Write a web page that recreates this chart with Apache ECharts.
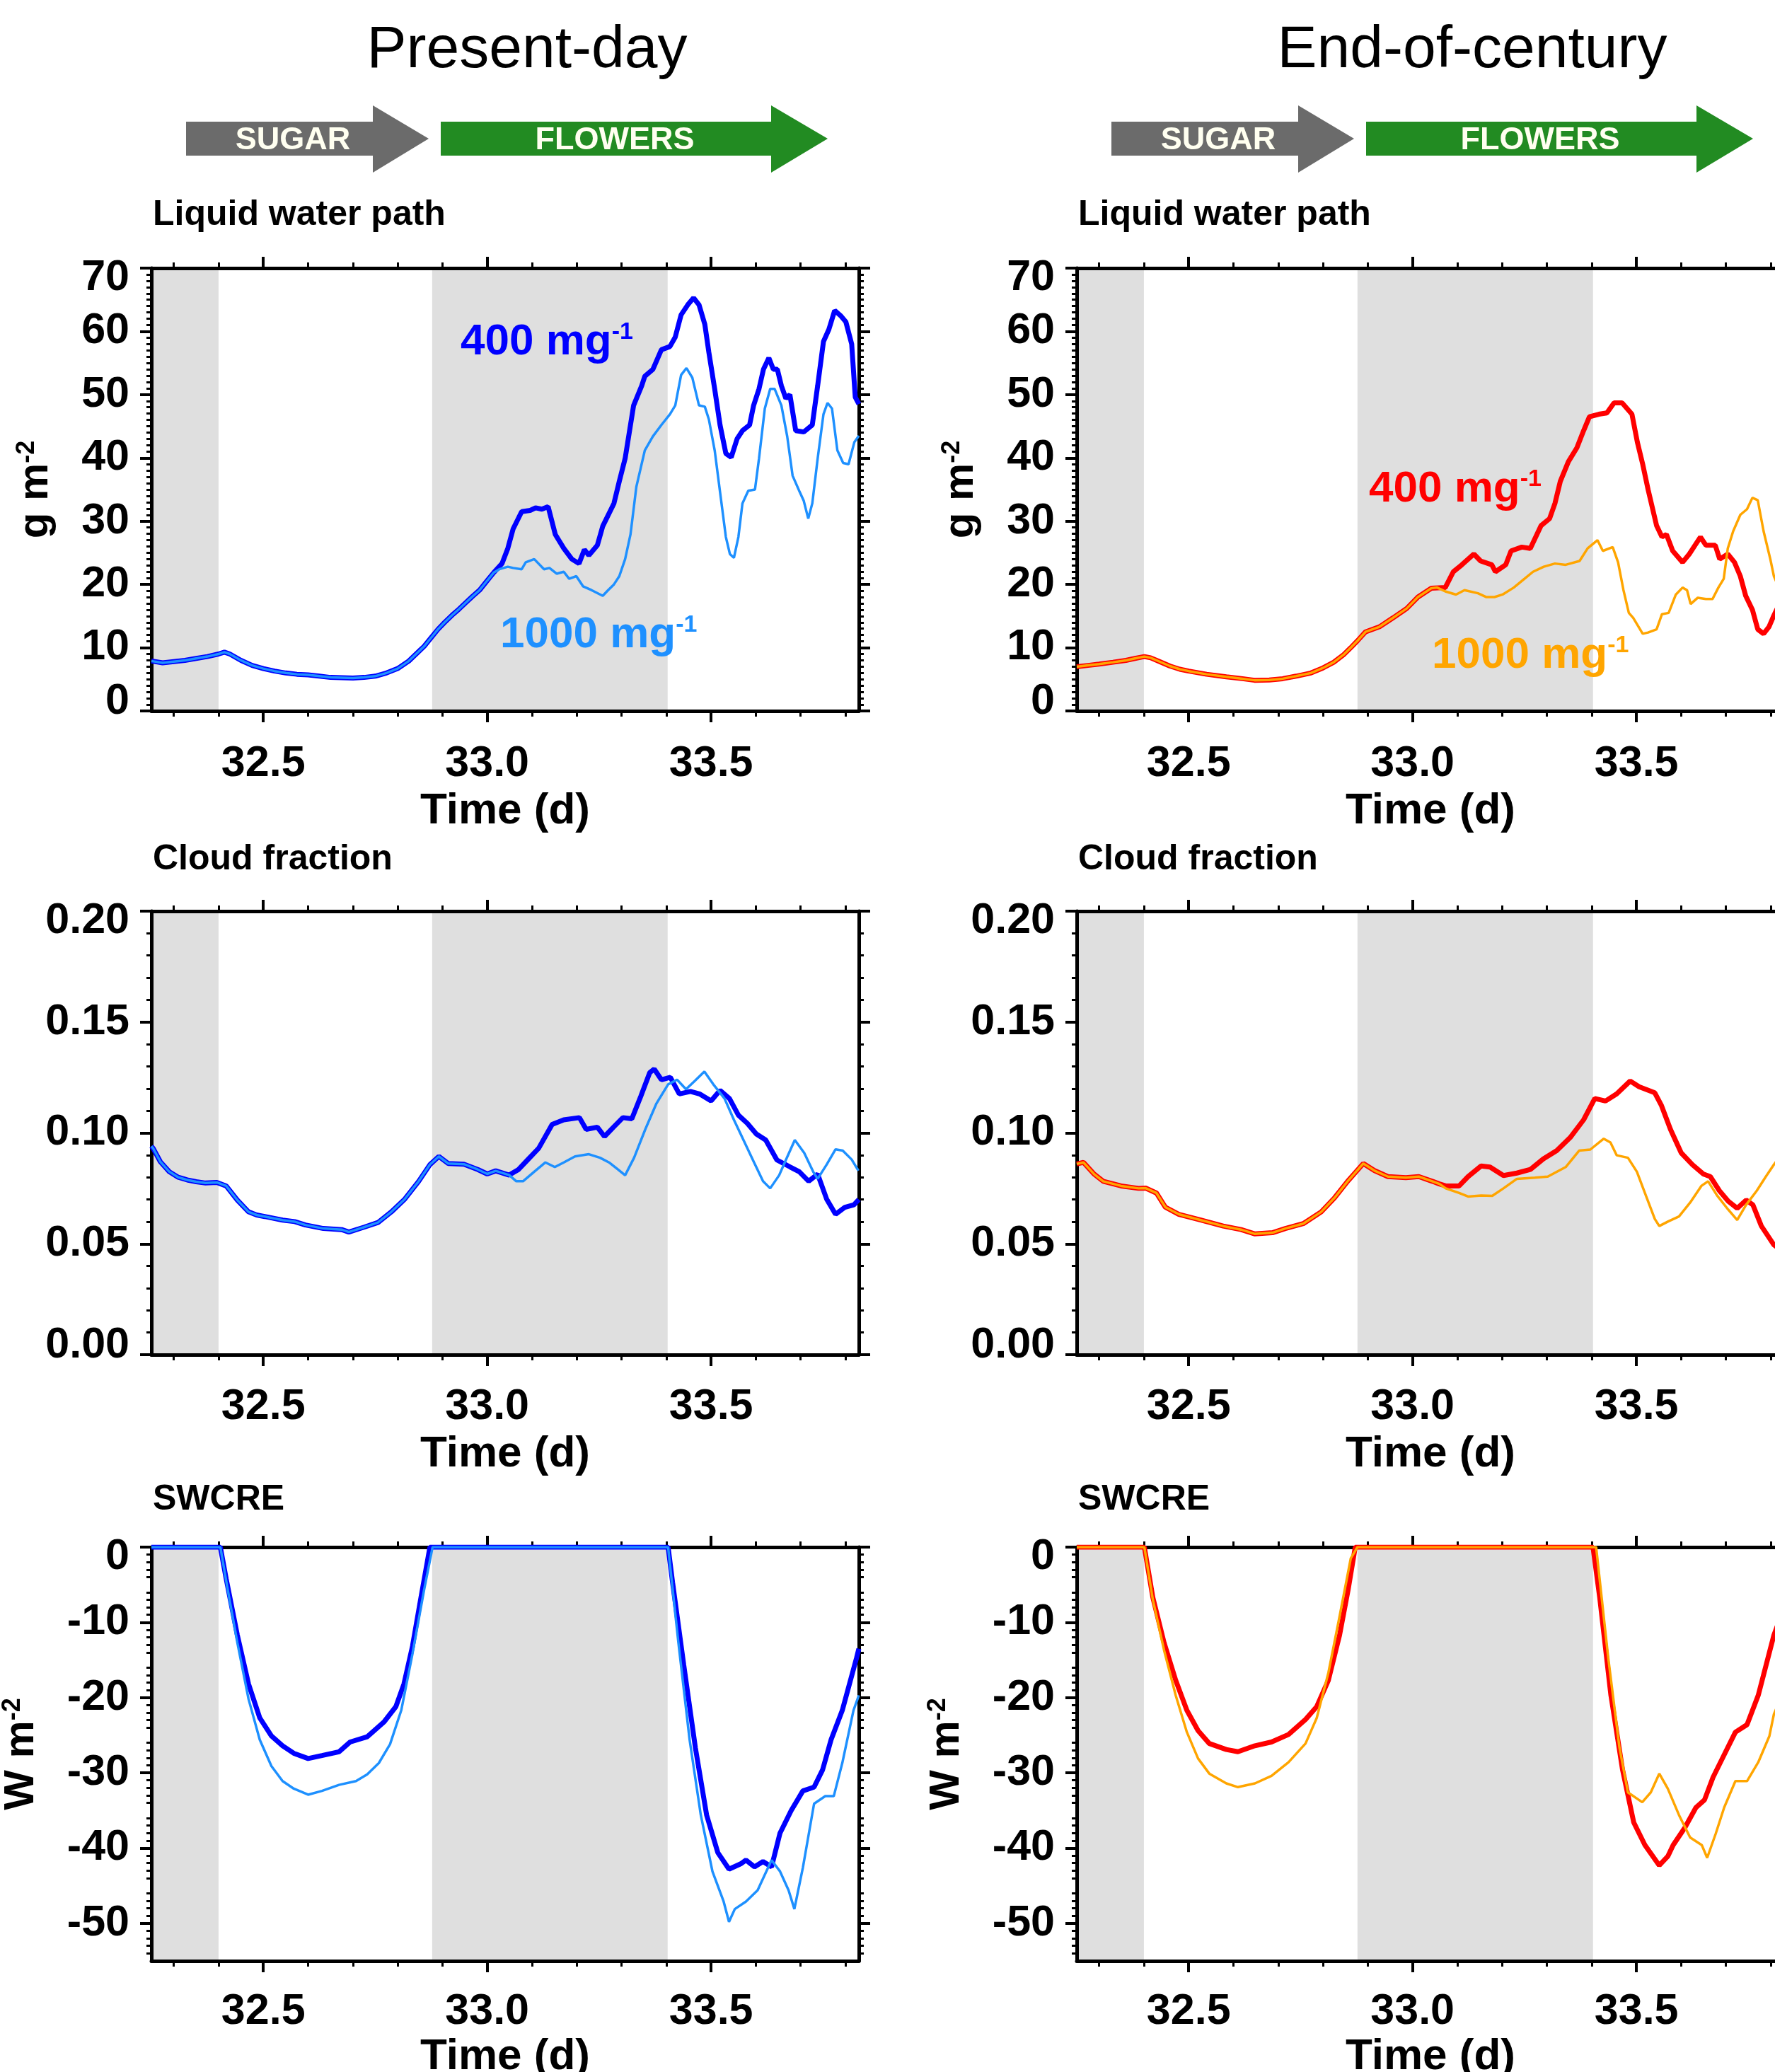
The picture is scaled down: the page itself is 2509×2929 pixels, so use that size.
<!DOCTYPE html>
<html>
<head>
<meta charset="utf-8">
<title>Sugar to Flowers</title>
<script src="https://cdn.jsdelivr.net/npm/echarts@6/dist/echarts.min.js"></script>
<style>
html, body { margin: 0; padding: 0; background: #fff; overflow: hidden; }
/* a bit wider than the window: the right column is cut off at the edge, like the original */
#chart { width: 2540px; height: 2929px; }
</style>
</head>
<body>
<div id="chart"></div>
<script>
// ---- data (time in days) ----
const timeMin = 32.25, timeMax = 33.83;
const timeLabels = [32.5, 33.0, 33.5];
const timeMinorTicks = [32.3, 32.4, 32.6, 32.7, 32.8, 32.9, 33.1, 33.2, 33.3, 33.4, 33.6, 33.7, 33.8];
const nightBands = [[32.25, 32.40], [32.877, 33.403]];
const swcreTicks = [-50, -40, -30, -20, -10, 0];

// liquid water path, present-day (both runs identical up to ~33.02)
const lwpPdShared = [[32.25,7.9],[32.275,7.6],[32.3,7.8],[32.325,8.0],[32.35,8.3],[32.375,8.6],[32.4,9.0],[32.413,9.3],[32.425,9.0],[32.45,8.0],[32.475,7.2],[32.5,6.7],[32.525,6.3],[32.55,6.0],[32.575,5.8],[32.6,5.7],[32.625,5.5],[32.65,5.3],[32.675,5.25],[32.7,5.2],[32.725,5.3],[32.75,5.5],[32.775,6.0],[32.8,6.7],[32.825,7.9],[32.85,9.6],[32.859,10.2],[32.875,11.6],[32.89,12.9],[32.905,14.0],[32.921,15.1],[32.937,16.1],[32.952,17.1],[32.967,18.1],[32.983,19.1],[33.0,20.6],[33.015,21.9]];
const lwpPd400 = [[33.033,23.3],[33.046,25.7],[33.058,28.8],[33.077,31.5],[33.096,31.7],[33.108,32.1],[33.122,31.9],[33.136,32.3],[33.152,27.9],[33.171,25.7],[33.189,24.0],[33.205,23.3],[33.217,25.5],[33.227,24.6],[33.246,26.2],[33.258,29.2],[33.283,32.8],[33.295,36.3],[33.308,39.9],[33.327,48.3],[33.345,51.4],[33.352,52.9],[33.37,54.0],[33.389,57.1],[33.408,57.6],[33.42,59.1],[33.433,62.6],[33.448,64.2],[33.461,65.3],[33.473,64.2],[33.486,61.1],[33.495,56.7],[33.508,50.9],[33.52,45.2],[33.533,40.7],[33.545,40.1],[33.558,43.0],[33.57,44.3],[33.586,45.2],[33.595,48.3],[33.607,50.9],[33.617,54.0],[33.629,55.8],[33.639,54.0],[33.648,54.0],[33.657,51.4],[33.667,49.4],[33.676,50.0],[33.689,44.3],[33.707,44.1],[33.726,45.2],[33.738,51.4],[33.751,58.4],[33.763,60.3],[33.776,63.3],[33.789,62.5],[33.801,61.5],[33.814,58.0],[33.822,49.6],[33.83,48.5]];
const lwpPd1000 = [[33.027,22.4],[33.046,22.8],[33.058,22.6],[33.077,22.4],[33.086,23.5],[33.105,24.0],[33.127,22.4],[33.139,22.6],[33.155,21.7],[33.171,22.0],[33.183,20.9],[33.199,21.3],[33.214,19.7],[33.233,19.1],[33.258,18.2],[33.27,19.1],[33.283,20.0],[33.295,21.3],[33.308,24.0],[33.32,27.9],[33.333,35.4],[33.352,41.2],[33.37,43.4],[33.389,45.2],[33.408,46.9],[33.42,48.3],[33.433,53.1],[33.445,54.2],[33.458,52.7],[33.473,48.3],[33.486,48.1],[33.495,46.1],[33.508,41.2],[33.52,34.6],[33.533,27.5],[33.542,24.8],[33.551,24.2],[33.561,27.5],[33.57,32.8],[33.583,34.8],[33.598,35.0],[33.607,39.9],[33.62,47.8],[33.632,50.9],[33.642,50.9],[33.657,48.3],[33.67,43.4],[33.682,37.2],[33.698,34.6],[33.707,33.2],[33.717,30.4],[33.726,32.8],[33.738,39.9],[33.751,46.9],[33.76,48.7],[33.77,47.8],[33.782,41.2],[33.795,39.2],[33.807,39.0],[33.82,42.5],[33.83,43.5]];

// liquid water path, end-of-century
const lwpEcShared = [[32.25,7.0],[32.275,7.2],[32.3,7.4],[32.331,7.7],[32.36,8.0],[32.38,8.3],[32.401,8.6],[32.415,8.4],[32.435,7.8],[32.458,7.1],[32.48,6.6],[32.5,6.3],[32.54,5.8],[32.584,5.4],[32.62,5.1],[32.647,4.85],[32.68,4.9],[32.71,5.1],[32.74,5.5],[32.773,6.0],[32.8,6.8],[32.824,7.7],[32.846,8.9],[32.862,10.0],[32.877,11.1],[32.895,12.5],[32.926,13.3],[32.956,14.7],[32.987,16.2],[33.012,18.0],[33.042,19.4]];
const lwpEc400 = [[33.073,19.5],[33.091,22.0],[33.11,23.1],[33.137,24.8],[33.152,23.7],[33.177,23.1],[33.185,22.0],[33.208,23.1],[33.22,25.3],[33.244,25.9],[33.263,25.7],[33.287,29.3],[33.306,30.4],[33.318,32.8],[33.33,36.3],[33.348,39.4],[33.367,41.6],[33.382,44.3],[33.395,46.5],[33.416,46.9],[33.434,47.1],[33.45,48.7],[33.468,48.7],[33.49,46.9],[33.502,42.5],[33.514,39.0],[33.526,35.0],[33.545,29.3],[33.557,27.5],[33.567,27.9],[33.581,25.3],[33.603,23.5],[33.618,24.8],[33.631,26.2],[33.643,27.5],[33.655,26.2],[33.676,26.2],[33.686,24.0],[33.704,24.8],[33.719,23.5],[33.732,21.3],[33.744,18.2],[33.759,16.0],[33.771,12.9],[33.784,12.2],[33.796,13.3],[33.807,15.1],[33.83,18.5]];
const lwpEc1000 = [[33.055,19.5],[33.073,18.9],[33.097,18.4],[33.116,19.1],[33.146,18.6],[33.165,18.0],[33.183,18.0],[33.201,18.4],[33.226,19.5],[33.25,20.9],[33.269,22.0],[33.293,22.8],[33.318,23.3],[33.342,23.1],[33.373,23.7],[33.391,25.7],[33.413,27.0],[33.425,25.3],[33.447,25.9],[33.459,23.5],[33.471,19.1],[33.483,15.5],[33.493,14.7],[33.514,12.2],[33.526,12.4],[33.545,12.9],[33.557,15.3],[33.572,15.5],[33.588,18.4],[33.603,19.5],[33.613,19.1],[33.621,16.9],[33.637,17.9],[33.655,17.7],[33.67,17.7],[33.683,19.5],[33.695,20.9],[33.704,25.7],[33.716,28.4],[33.732,31.0],[33.747,31.9],[33.759,33.7],[33.771,33.3],[33.784,28.4],[33.799,24.0],[33.807,21.3],[33.83,17.5]];

// cloud fraction, present-day
const cfPdShared = [[32.25,0.094],[32.254,0.093],[32.27,0.087],[32.29,0.0825],[32.31,0.080],[32.33,0.0788],[32.35,0.078],[32.371,0.0774],[32.396,0.0777],[32.417,0.0761],[32.442,0.0697],[32.467,0.0644],[32.485,0.063],[32.503,0.0623],[32.543,0.0607],[32.57,0.060],[32.594,0.0585],[32.634,0.0569],[32.675,0.0564],[32.691,0.0553],[32.725,0.0575],[32.756,0.0596],[32.786,0.0644],[32.816,0.0702],[32.847,0.0782],[32.872,0.0857],[32.892,0.0894],[32.913,0.0862],[32.948,0.0859],[32.979,0.0835],[33.0,0.0815],[33.019,0.0829],[33.049,0.0810]];
const cfPd400 = [[33.07,0.0835],[33.09,0.0878],[33.115,0.0931],[33.145,0.1038],[33.171,0.1059],[33.206,0.1069],[33.221,0.1016],[33.246,0.1026],[33.262,0.0984],[33.282,0.1026],[33.303,0.1069],[33.323,0.1064],[33.343,0.1165],[33.363,0.1272],[33.373,0.1288],[33.389,0.1240],[33.409,0.1251],[33.429,0.1176],[33.454,0.1187],[33.474,0.1176],[33.5,0.1144],[33.52,0.1192],[33.541,0.1155],[33.561,0.1080],[33.581,0.1043],[33.601,0.0995],[33.622,0.0968],[33.647,0.0878],[33.677,0.0846],[33.697,0.0825],[33.718,0.0782],[33.738,0.0814],[33.758,0.0702],[33.778,0.0633],[33.799,0.0665],[33.819,0.0676],[33.83,0.070]];
const cfPd1000 = [[33.065,0.0782],[33.08,0.0782],[33.105,0.0825],[33.13,0.0867],[33.151,0.0846],[33.171,0.0867],[33.196,0.0894],[33.227,0.0904],[33.252,0.0888],[33.272,0.0867],[33.292,0.0835],[33.308,0.0809],[33.328,0.0888],[33.353,0.1016],[33.378,0.1133],[33.404,0.1219],[33.424,0.1240],[33.444,0.1197],[33.464,0.1235],[33.485,0.1277],[33.505,0.1219],[33.53,0.1155],[33.551,0.1059],[33.571,0.0974],[33.596,0.0867],[33.616,0.0782],[33.632,0.0750],[33.652,0.0809],[33.667,0.0878],[33.687,0.0968],[33.708,0.0910],[33.728,0.0825],[33.738,0.0793],[33.758,0.0857],[33.778,0.0926],[33.794,0.0920],[33.814,0.0880],[33.829,0.0830]];

// cloud fraction, end-of-century
const cfEcShared = [[32.25,0.086],[32.265,0.0867],[32.289,0.0814],[32.309,0.0782],[32.349,0.0761],[32.388,0.0750],[32.404,0.0751],[32.428,0.0729],[32.448,0.0665],[32.478,0.0633],[32.527,0.0607],[32.577,0.0580],[32.617,0.0564],[32.647,0.0545],[32.687,0.0550],[32.716,0.0569],[32.756,0.0591],[32.796,0.0644],[32.826,0.0708],[32.855,0.0782],[32.89,0.0862],[32.915,0.0830],[32.945,0.0803],[32.985,0.0798],[33.014,0.0803],[33.044,0.0782],[33.06,0.0770]];
const cfEc400 = [[33.074,0.0761],[33.104,0.0761],[33.124,0.0803],[33.153,0.0851],[33.173,0.0846],[33.203,0.0808],[33.233,0.0819],[33.263,0.0835],[33.292,0.0883],[33.322,0.0920],[33.352,0.0979],[33.382,0.1059],[33.407,0.1155],[33.431,0.1144],[33.456,0.1176],[33.486,0.1234],[33.506,0.1208],[33.541,0.1181],[33.556,0.1123],[33.576,0.1016],[33.6,0.0910],[33.625,0.0857],[33.65,0.0814],[33.665,0.0803],[33.685,0.0740],[33.705,0.0692],[33.725,0.0660],[33.745,0.0697],[33.76,0.0676],[33.779,0.0580],[33.807,0.0495],[33.83,0.046]];
const cfEc1000 = [[33.074,0.0750],[33.104,0.0729],[33.124,0.0713],[33.153,0.0718],[33.178,0.0716],[33.203,0.0750],[33.233,0.0793],[33.273,0.0798],[33.302,0.0803],[33.342,0.0846],[33.372,0.0920],[33.397,0.0925],[33.427,0.0974],[33.442,0.0957],[33.456,0.0899],[33.481,0.0888],[33.501,0.0825],[33.521,0.0718],[33.541,0.0612],[33.551,0.0580],[33.571,0.0601],[33.595,0.0623],[33.62,0.0686],[33.645,0.0761],[33.66,0.0782],[33.68,0.0718],[33.705,0.0654],[33.725,0.0607],[33.745,0.0676],[33.769,0.0740],[33.789,0.0803],[33.807,0.0857],[33.83,0.092]];

// shortwave cloud radiative effect
const swPd400 = [[32.25,0],[32.404,0],[32.417,-4.2],[32.442,-11.7],[32.467,-18.2],[32.492,-22.7],[32.518,-25.1],[32.543,-26.4],[32.568,-27.4],[32.6,-28.1],[32.631,-27.7],[32.669,-27.2],[32.694,-25.9],[32.732,-25.2],[32.77,-23.2],[32.796,-21.2],[32.814,-18.2],[32.833,-13.2],[32.852,-6.7],[32.872,0],[33.404,0],[33.414,-4.7],[33.439,-15.7],[33.465,-26.7],[33.49,-35.6],[33.515,-40.6],[33.54,-42.8],[33.566,-42.1],[33.578,-41.6],[33.597,-42.5],[33.616,-41.8],[33.635,-42.5],[33.654,-38.0],[33.679,-35.0],[33.705,-32.4],[33.73,-31.9],[33.749,-29.6],[33.768,-25.6],[33.793,-21.7],[33.825,-14.7],[33.83,-13.5]];
const swPd1000 = [[32.25,0],[32.404,0],[32.42,-5.5],[32.442,-12.7],[32.467,-20.2],[32.492,-25.6],[32.518,-29.1],[32.543,-31.1],[32.568,-32.1],[32.6,-32.9],[32.631,-32.4],[32.669,-31.6],[32.707,-31.1],[32.732,-30.2],[32.758,-28.7],[32.783,-26.2],[32.808,-21.7],[32.833,-14.2],[32.859,-5.7],[32.878,0],[33.404,0],[33.427,-12.7],[33.452,-25.6],[33.477,-35.6],[33.503,-43.1],[33.528,-47.1],[33.54,-49.8],[33.553,-48.1],[33.578,-47.1],[33.604,-45.6],[33.635,-41.6],[33.654,-43.1],[33.673,-45.6],[33.686,-48.1],[33.705,-42.6],[33.73,-34.1],[33.755,-33.1],[33.774,-33.1],[33.793,-28.7],[33.818,-21.7],[33.83,-19.7]];
const swEc400 = [[32.25,0],[32.401,0],[32.42,-6.7],[32.445,-12.7],[32.471,-17.7],[32.496,-21.7],[32.521,-24.4],[32.546,-26.1],[32.584,-26.9],[32.61,-27.2],[32.648,-26.4],[32.685,-25.9],[32.723,-24.9],[32.761,-22.9],[32.786,-21.2],[32.812,-17.7],[32.837,-11.7],[32.856,-5.7],[32.872,0],[33.403,0],[33.418,-6.7],[33.443,-19.7],[33.469,-29.6],[33.494,-36.6],[33.519,-39.6],[33.551,-42.3],[33.57,-41.1],[33.582,-39.6],[33.608,-37.3],[33.633,-34.6],[33.652,-33.6],[33.671,-30.6],[33.696,-27.6],[33.721,-24.6],[33.747,-23.6],[33.772,-19.7],[33.807,-11.7],[33.83,-8]];
const swEc1000 = [[32.25,0],[32.401,0],[32.42,-7],[32.445,-13.7],[32.471,-19.7],[32.496,-24.6],[32.521,-28.1],[32.546,-30.1],[32.584,-31.4],[32.61,-31.9],[32.648,-31.4],[32.685,-30.4],[32.723,-28.6],[32.761,-26.1],[32.786,-22.7],[32.812,-16.7],[32.837,-9.2],[32.862,-1.5],[32.877,0],[33.41,0],[33.437,-14.7],[33.462,-26.6],[33.481,-32.6],[33.513,-33.9],[33.532,-32.6],[33.551,-30.1],[33.57,-32.1],[33.595,-35.6],[33.62,-38.6],[33.646,-39.6],[33.658,-41.3],[33.677,-38.1],[33.696,-34.6],[33.721,-31.1],[33.747,-31.1],[33.772,-28.6],[33.797,-25.1],[33.807,-22.2],[33.83,-19]];

// ---- layout ----
const FONT = "'Liberation Sans', Arial, Helvetica, sans-serif";
const colLeft = [214, 1522];
const rowTop = [379, 1288, 2187];
const rowHeight = [626, 627, 585];
const plotWidth = 1000;
const xLabelMargin = [45, 44, 42];
const xNameGap = [111, 110, 105];
const colColors = [['#0000ff', '#1e90ff'], ['#ff0000', '#ffa500']];

const yCfg = [
    { min: 0, max: 70, interval: 10, minor: 10, fmt: v => String(v), name: '{b|g m}{s|-2}', gap: 134, pullMin: true },
    { min: 0, max: 0.2, interval: 0.05, minor: 5, fmt: v => v.toFixed(2), name: '', pullMin: true },
    { min: -55, max: 0, interval: 5, minor: 5, ticks: swcreTicks, fmt: v => String(v), name: '{b|W m}{s|-2}', gap: 154, pullMin: false }
];

// series data per row / column: [400, 1000]
const panelData = [
    [[lwpPdShared.concat(lwpPd400), lwpPdShared.concat(lwpPd1000)],
     [lwpEcShared.concat(lwpEc400), lwpEcShared.concat(lwpEc1000)]],
    [[cfPdShared.concat(cfPd400), cfPdShared.concat(cfPd1000)],
     [cfEcShared.concat(cfEc400), cfEcShared.concat(cfEc1000)]],
    [[swPd400, swPd1000], [swEc400, swEc1000]]
];

const black = { color: '#000', width: 5 };
const labelFont = { fontSize: 61, fontWeight: 'bold', fontFamily: FONT, color: '#000' };
const grid = [], xAxis = [], yAxis = [], series = [];

for (let row = 0; row < 3; row++) {
    for (let col = 0; col < 2; col++) {
        const g = grid.length;
        const yc = yCfg[row];
        // outerBoundsMode none: keep the frame where it is even if names run off the page
        grid.push({ left: colLeft[col], top: rowTop[row], width: plotWidth, height: rowHeight[row],
            outerBoundsMode: 'none', containLabel: false });

        const xBase = { gridIndex: g, type: 'value', min: timeMin, max: timeMax, z: 10,
            splitLine: { show: false }, axisLabel: { show: false } };
        // bottom: labels + long ticks
        xAxis.push(Object.assign({}, xBase, {
            position: 'bottom',
            axisLine: { show: true, onZero: false, lineStyle: black },
            axisTick: { customValues: timeLabels, length: 16, lineStyle: { color: '#000', width: 4 } },
            axisLabel: Object.assign({ show: true, customValues: timeLabels, formatter: v => v.toFixed(1),
                margin: xLabelMargin[row] }, labelFont),
            name: 'Time (d)', nameLocation: 'middle', nameGap: xNameGap[row],
            nameTextStyle: { fontSize: 62, fontWeight: 'bold', fontFamily: FONT, color: '#000' }
        }));
        // bottom: short ticks
        xAxis.push(Object.assign({}, xBase, {
            position: 'bottom', axisLine: { show: false, onZero: false },
            axisTick: { customValues: timeMinorTicks, length: 8, lineStyle: { color: '#000', width: 3 } }
        }));
        // top frame
        xAxis.push(Object.assign({}, xBase, {
            position: 'top', axisLine: { show: true, onZero: false, lineStyle: black },
            axisTick: { customValues: timeLabels, length: 16, lineStyle: { color: '#000', width: 4 } }
        }));
        xAxis.push(Object.assign({}, xBase, {
            position: 'top', axisLine: { show: false, onZero: false },
            axisTick: { customValues: timeMinorTicks, length: 8, lineStyle: { color: '#000', width: 3 } }
        }));

        const yBase = { gridIndex: g, type: 'value', min: yc.min, max: yc.max, interval: yc.interval, z: 10,
            axisLine: { show: true, onZero: false, lineStyle: black },
            axisTick: { length: 16, lineStyle: { color: '#000', width: 4 } },
            minorTick: { show: true, splitNumber: yc.minor, length: 7, lineStyle: { color: '#000', width: 3 } },
            splitLine: { show: false }, minorSplitLine: { show: false } };
        if (yc.ticks) yBase.axisTick.customValues = yc.ticks;

        // end labels sit a little inside the frame, as in the original
        const fmt = yc.fmt, ymin = yc.min, ymax = yc.max, pullMin = yc.pullMin;
        const yLeft = Object.assign({}, yBase, {
            position: 'left',
            axisLabel: Object.assign({
                margin: 31,
                formatter: v => {
                    const s = fmt(v);
                    if (Math.abs(v - ymax) < 1e-9) return '{hi|' + s + '}';
                    if (pullMin && Math.abs(v - ymin) < 1e-9) return '{lo|' + s + '}';
                    return s;
                },
                rich: {
                    hi: Object.assign({ padding: [28, 0, 0, 0] }, labelFont),
                    lo: Object.assign({ padding: [0, 0, 26, 0] }, labelFont)
                }
            }, labelFont)
        });
        if (yc.ticks) yLeft.axisLabel.customValues = yc.ticks;
        if (yc.name) {
            Object.assign(yLeft, {
                name: yc.name, nameLocation: 'middle', nameRotate: 90, nameGap: yc.gap,
                nameTextStyle: { rich: {
                    b: { fontSize: 60, fontWeight: 'bold', fontFamily: FONT, color: '#000' },
                    s: { fontSize: 36, fontWeight: 'bold', fontFamily: FONT, color: '#000', verticalAlign: 'top' }
                } }
            });
        }
        yAxis.push(yLeft);
        yAxis.push(Object.assign({}, yBase, { position: 'right', axisLabel: { show: false } }));

        // night shading
        series.push({
            type: 'line', xAxisIndex: g * 4, yAxisIndex: g * 2, data: [], z: 1, silent: true,
            markArea: { silent: true, itemStyle: { color: '#dfdfdf' },
                data: nightBands.map(b => [{ xAxis: b[0] }, { xAxis: b[1] }]) }
        });
        const [d400, d1000] = panelData[row][col];
        series.push({ type: 'line', xAxisIndex: g * 4, yAxisIndex: g * 2, data: d400, symbol: 'none', z: 12,
            lineStyle: { color: colColors[col][0], width: 7 } });
        series.push({ type: 'line', xAxisIndex: g * 4, yAxisIndex: g * 2, data: d1000, symbol: 'none', z: 13,
            lineStyle: { color: colColors[col][1], width: 3.5 } });
    }
}

// ---- headers, arrows, panel titles, run labels ----
const graphic = [];
function text(x, y, str, size, weight, fill, align) {
    graphic.push({ type: 'text', x: x, y: y, z: 50, style: { text: str, fontSize: size, fontWeight: weight,
        fontFamily: FONT, fill: fill, align: align || 'left', verticalAlign: 'middle' } });
}
function arrow(x0, x1, x2, fill, label, labelX) {
    graphic.push({ type: 'polygon', z: 40, shape: { points: [[x0, 172], [x1, 172], [x1, 149], [x2, 196], [x1, 244], [x1, 220], [x0, 220]] },
        style: { fill: fill } });
    text(labelX, 199, label, 45, 'bold', '#fffff0', 'center');
}
function runLabel(x, y, num, fill) {
    graphic.push({ type: 'text', x: x, y: y, z: 50, style: {
        text: '{n|' + num + ' mg}{s|-1}', fill: fill, verticalAlign: 'middle',
        rich: { n: { fontSize: 62, fontWeight: 'bold', fontFamily: FONT, fill: fill },
                s: { fontSize: 34, fontWeight: 'bold', fontFamily: FONT, fill: fill, verticalAlign: 'top' } } } });
}

text(745, 72, 'Present-day', 84, 'normal', '#000', 'center');
text(2081, 72, 'End-of-century', 84, 'normal', '#000', 'center');
arrow(263, 527, 606, '#6b6b6b', 'SUGAR', 414);
arrow(623, 1090, 1170, '#228b22', 'FLOWERS', 869);
arrow(1571, 1835, 1914, '#6b6b6b', 'SUGAR', 1722);
arrow(1931, 2398, 2478, '#228b22', 'FLOWERS', 2177);

const titles = ['Liquid water path', 'Cloud fraction', 'SWCRE'];
const titleBase = [321, 1232, 2137];
for (let row = 0; row < 3; row++) {
    text(216, titleBase[row] - 17, titles[row], 50, 'bold', '#000');
    text(1524, titleBase[row] - 17, titles[row], 50, 'bold', '#000');
}

runLabel(651, 484, '400', '#0000ff');
runLabel(707, 898, '1000', '#1e90ff');
runLabel(1935, 692, '400', '#ff0000');
runLabel(2024, 927, '1000', '#ffa500');

const chart = echarts.init(document.getElementById('chart'));
chart.setOption({
    animation: false,
    backgroundColor: '#fff',
    grid: grid,
    xAxis: xAxis,
    yAxis: yAxis,
    series: series,
    graphic: graphic
});
</script>
</body>
</html>
